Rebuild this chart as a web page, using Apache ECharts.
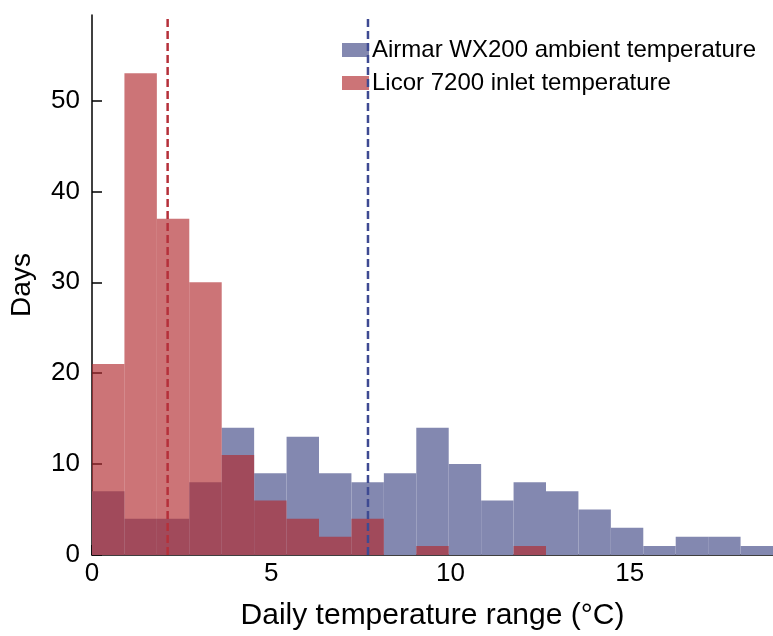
<!DOCTYPE html>
<html>
<head>
<meta charset="utf-8">
<script src="https://cdn.jsdelivr.net/npm/echarts@6/dist/echarts.min.js"></script>
<style>
html,body{margin:0;padding:0;background:#fff;}
#chart{width:773px;height:636px;}
</style>
</head>
<body>
<div id="chart"></div>
<script>
// Histogram bins (shared by both series)
const binStart = 0;
const binWidth = 19 / 21;
const airmarCounts = [7, 4, 4, 8, 14, 9, 13, 9, 8, 9, 14, 10, 6, 8, 7, 5, 3, 1, 2, 2, 1];
const licorCounts  = [21, 53, 37, 30, 11, 6, 4, 2, 4, 0, 1, 0, 0, 1, 0, 0, 0, 0, 0, 0, 0];
const airmarMean = 7.70;
const licorMean = 2.11;
const yTicks = [0, 10, 20, 30, 40, 50];
const xTicks = [0, 5, 10, 15];
const seriesNames = ['Airmar WX200 ambient temperature', 'Licor 7200 inlet temperature'];

const xMax = 19, yMax = 59.4;
const FONT = "'Liberation Sans', Arial, sans-serif";

function toBins(counts) {
  return counts.map((c, i) => [binStart + i * binWidth, binStart + (i + 1) * binWidth, c]);
}

function renderRect(params, api) {
  const p0 = api.coord([api.value(0), 0]);
  const p1 = api.coord([api.value(1), api.value(2)]);
  return {
    type: 'rect',
    shape: { x: p0[0], y: p1[1], width: p1[0] - p0[0], height: p0[1] - p1[1] },
    style: api.style()
  };
}

const chart = echarts.init(document.getElementById('chart'), null, { renderer: 'canvas' });
chart.setOption({
  animation: false,
  backgroundColor: '#fff',
  textStyle: { fontFamily: FONT },
  grid: { left: 91, right: 0, top: 15, bottom: 78, containLabel: false },
  legend: {
    data: seriesNames,
    orient: 'vertical',
    left: 337, top: 31,
    icon: 'rect',
    itemWidth: 27, itemHeight: 14,
    itemGap: 5,
    textStyle: { fontSize: 24, color: '#000', fontFamily: FONT, padding: [0, 0, 0, -2], lineHeight: 28 }
  },
  xAxis: {
    type: 'value', min: 0, max: xMax,
    name: 'Daily temperature range (°C)',
    nameLocation: 'middle', nameGap: 46,
    nameTextStyle: { fontSize: 30, color: '#000', fontFamily: FONT },
    axisLine: { show: true, lineStyle: { color: '#000', width: 1.5 } },
    axisTick: { show: true, inside: true, length: 10, lineStyle: { color: '#000', width: 1.5 }, customValues: xTicks },
    axisLabel: { fontSize: 26, color: '#000', margin: 6, customValues: xTicks, fontFamily: FONT },
    splitLine: { show: false }
  },
  yAxis: {
    type: 'value', min: 0, max: yMax,
    name: 'Days',
    nameLocation: 'middle', nameGap: 56,
    nameTextStyle: { fontSize: 28, color: '#000', fontFamily: FONT },
    axisLine: { show: true, lineStyle: { color: '#000', width: 1.5 } },
    axisTick: { show: true, inside: true, length: 10, lineStyle: { color: '#000', width: 1.5 }, customValues: yTicks },
    axisLabel: { fontSize: 26, color: '#000', margin: 12, customValues: yTicks, fontFamily: FONT },
    splitLine: { show: false }
  },
  series: [
    {
      name: seriesNames[0], type: 'custom', renderItem: renderRect,
      encode: { x: [0, 1], y: 2 },
      itemStyle: { color: '#8388b0' },
      data: toBins(airmarCounts), z: 2
    },
    {
      name: seriesNames[1], type: 'custom', renderItem: renderRect,
      encode: { x: [0, 1], y: 2 },
      itemStyle: { color: 'rgba(177,41,46,0.65)' },
      data: toBins(licorCounts), z: 3
    },
    {
      name: 'airmarMean', type: 'line', symbol: 'none', z: 4,
      data: [[airmarMean, 0], [airmarMean, yMax]],
      lineStyle: { color: '#3e4a92', width: 2.5, type: [8, 4] }
    },
    {
      name: 'licorMean', type: 'line', symbol: 'none', z: 4,
      data: [[licorMean, 0], [licorMean, yMax]],
      lineStyle: { color: '#b5303a', width: 2.5, type: [8, 4] }
    }
  ]
});
</script>
</body>
</html>
